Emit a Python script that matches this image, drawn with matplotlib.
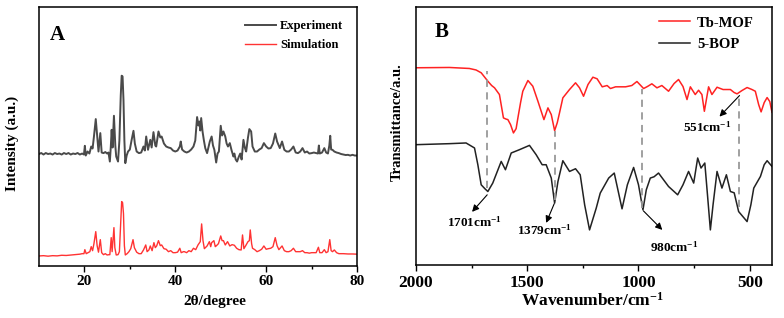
"""Two-panel figure: (A) PXRD experiment vs simulation, (B) FT-IR of Tb-MOF and 5-BOP."""

import matplotlib

matplotlib.use("Agg")
import matplotlib.pyplot as plt
import numpy as np

# ---- panel A: PXRD (2theta in degree, intensity in a.u.)
exp_points = [
    (10, 111.5), (10.5, 112.5), (11, 111), (11.5, 112.5), (12, 111.5), (12.5, 112),
    (13, 111), (13.5, 112.5), (14, 111.5), (14.5, 112), (15, 111), (15.5, 112.5),
    (16, 111.5), (16.5, 112.5), (17, 111), (17.5, 112), (18, 111.5), (18.5, 112.5),
    (19, 111), (19.5, 112), (19.9, 111), (20.1, 119.7), (20.3, 110), (20.7, 114),
    (21.1, 112), (21.5, 119), (21.8, 117), (22.1, 129), (22.5, 146.4), (22.8, 130),
    (23.1, 114), (23.5, 132.4), (23.8, 113), (24.2, 112.4), (24.6, 113.5), (25, 112),
    (25.3, 113), (25.6, 104), (25.8, 118), (26.0, 135.7), (26.2, 118), (26.5, 149.7),
    (26.8, 120), (27, 109), (27.4, 104), (27.7, 125), (28.0, 170), (28.2, 189.7),
    (28.4, 189), (28.6, 165.7), (28.8, 125), (29.0, 102.4), (29.3, 110), (29.6, 114),
    (30, 116), (30.4, 125.7), (30.8, 134.7), (31.1, 122), (31.5, 114), (32, 112.4),
    (32.5, 113), (33, 119), (33.3, 115), (33.6, 129), (34, 115.7), (34.5, 125.7),
    (34.8, 118), (35.2, 133.4), (35.6, 120), (35.8, 119), (36.3, 134), (36.7, 128),
    (37, 129), (37.5, 122), (38, 119), (38.5, 118), (39, 117.4), (39.5, 115),
    (40, 114), (40.5, 115), (41, 119), (41.2, 124), (41.5, 116), (42, 114),
    (42.5, 113), (43, 114), (43.5, 116), (44, 119), (44.4, 125), (44.8, 148.4),
    (45.1, 140), (45.3, 144), (45.5, 135), (45.7, 147.4), (46, 134), (46.3, 125),
    (46.6, 117.4), (47, 112.4), (47.3, 118), (47.6, 124), (48, 129), (48.3, 120),
    (48.6, 115.7), (49, 103), (49.3, 112), (49.6, 114), (50, 139.7), (50.3, 130),
    (50.6, 134), (51, 129), (51.3, 122), (51.6, 119), (52, 122.4), (52.4, 115),
    (52.8, 109), (53, 112), (53.3, 106), (53.6, 104), (54, 109), (54.3, 112),
    (54.6, 106), (55, 125.7), (55.3, 118), (55.6, 114), (56, 128), (56.3, 136.4),
    (56.7, 134), (57, 119), (57.5, 114), (58, 114), (58.5, 116), (59, 117.4),
    (59.5, 122.4), (60, 119), (60.5, 117), (61, 117.4), (61.5, 122), (62, 132),
    (62.4, 124), (63, 117.4), (63.5, 124), (64, 115.7), (64.5, 114), (65, 114),
    (65.5, 116), (66, 119), (66.5, 113), (67, 112.4), (67.5, 114), (68, 117.4),
    (68.5, 113), (69, 114), (69.5, 112), (70, 112.4), (70.5, 113), (71, 112.4),
    (71.4, 112), (71.6, 120), (71.8, 112), (72.3, 113), (72.8, 117.4), (73.2, 113),
    (73.6, 112), (73.9, 120), (74.1, 129.7), (74.3, 116), (74.6, 115.7), (75, 114),
    (75.5, 113), (76, 112.4), (76.5, 111.5), (77, 111), (77.5, 110.5), (78, 110.7),
    (78.5, 110), (79, 110.7), (79.5, 110), (80, 110),
]

sim_points = [
    (10, 9.7), (11, 10), (12, 9.5), (13, 10), (14, 9.8), (15, 10.4), (16, 10.2),
    (17, 10.6), (18, 11), (19, 11.5), (19.5, 12), (19.9, 12), (20.1, 16), (20.4, 12),
    (20.8, 13), (21.2, 14), (21.5, 19), (21.8, 15), (22.1, 22), (22.5, 34), (22.8, 20),
    (23.1, 13.5), (23.5, 26), (23.8, 13), (24.2, 11), (24.6, 12), (25, 10.7), (25.4, 11),
    (25.6, 11), (25.9, 28), (26.1, 14), (26.5, 38), (26.7, 18), (27, 10.7), (27.4, 11),
    (27.7, 14), (28.0, 45), (28.2, 64), (28.4, 63), (28.6, 52), (28.8, 20), (29, 10.7),
    (29.4, 12), (29.8, 14), (30.2, 17), (30.7, 26), (31, 18), (31.5, 13.5), (32, 12),
    (32.5, 12), (33, 15.7), (33.5, 20.7), (33.8, 14), (34.2, 15.7), (34.5, 19.7),
    (34.9, 15), (35.3, 23), (35.6, 18), (35.9, 19.7), (36.3, 25), (36.7, 20), (37, 20.7),
    (37.5, 17), (38, 16.4), (38.5, 14), (39, 15), (39.5, 13), (40, 13), (40.5, 13.5),
    (41, 17.4), (41.3, 13), (41.8, 14), (42, 14), (42.5, 13), (43, 15), (43.5, 14),
    (44, 17.4), (44.5, 16), (45, 20.7), (45.5, 24), (45.8, 41.7), (46.1, 25), (46.4, 17),
    (47, 19.7), (47.5, 24), (47.8, 19), (48, 23), (48.5, 25), (48.8, 19), (49, 19.7),
    (49.5, 22), (50, 29.7), (50.3, 25), (50.6, 25), (51, 20.7), (51.5, 24), (52, 19.7),
    (52.5, 21), (53, 20.4), (53.5, 17.4), (54, 16), (54.5, 15.7), (54.8, 30.7),
    (55.1, 17), (55.5, 20), (56, 24), (56.3, 25), (56.5, 35.7), (56.8, 22), (57, 17.4),
    (57.5, 16), (58, 14), (58.5, 15), (59, 16.4), (59.5, 19.7), (60, 16.4), (60.5, 17),
    (61, 17.4), (61.5, 19), (62, 28), (62.4, 20), (62.8, 16), (63.5, 19.7), (64, 15),
    (64.5, 14), (65, 14), (65.5, 15), (66, 17.4), (66.5, 14), (67, 14), (67.5, 14),
    (68, 15), (68.5, 13), (69, 13), (69.5, 12.5), (70, 13), (70.5, 13), (71, 13),
    (71.5, 18.4), (71.8, 13), (72.3, 13), (72.8, 16), (73.2, 13), (73.6, 14), (74, 26),
    (74.3, 15), (74.6, 14), (75, 15.7), (75.5, 13), (76, 12), (77, 12), (78, 11.7),
    (79, 11.7), (80, 11.5),
]

# ---- panel B: FT-IR (wavenumber in cm-1, transmittance in a.u.)
tb_mof = [
    (2000, 196.7), (1850, 197), (1760, 196), (1730, 194.5), (1707, 191.7), (1677, 183.3),
    (1660, 179), (1647, 176.7), (1625, 170), (1607, 146.7), (1595, 145.5), (1587, 145),
    (1575, 140), (1562, 131.7), (1550, 136), (1542, 146.7), (1530, 162), (1520, 173.3),
    (1497, 184), (1475, 178.3), (1452, 163.3), (1425, 145), (1407, 156.7), (1392, 150),
    (1377, 134), (1365, 142), (1355, 151.7), (1340, 166.7), (1310, 175), (1283, 181.7),
    (1265, 176.7), (1247, 168.3), (1227, 180), (1205, 187.3), (1186, 185.7),
    (1163, 177.7), (1141, 179), (1126, 176), (1103, 177.7), (1058, 177.7), (1030, 179),
    (1007, 183), (977, 176), (960, 178), (940, 180.7), (917, 176.7), (895, 179),
    (865, 173.3), (840, 181), (820, 185), (800, 178), (782, 165), (767, 177.7),
    (745, 170), (730, 174.3), (715, 170), (704, 153.3), (685, 177.7), (670, 170),
    (647, 177.3), (620, 175), (587, 175), (570, 172), (557, 170.7), (535, 174),
    (512, 177), (490, 175), (475, 173.3), (460, 160), (449, 152.7), (435, 162),
    (422, 167), (410, 163), (400, 152.3),
]

bop = [
    (2000, 120), (1850, 121), (1775, 121.7), (1737, 116.7), (1722, 100), (1707, 80),
    (1690, 76), (1677, 73.3), (1655, 81.7), (1617, 103.3), (1598, 95), (1572, 111.7),
    (1535, 115), (1490, 119.3), (1460, 110), (1433, 100), (1415, 100), (1392, 86.7),
    (1377, 61.7), (1362, 83.3), (1340, 104), (1310, 93.3), (1283, 96), (1262, 90),
    (1242, 60), (1220, 35), (1190, 56.7), (1172, 71.7), (1134, 86.7), (1109, 91.7),
    (1074, 56), (1050, 80), (1022, 97.3), (1000, 80), (980, 55), (965, 75),
    (947, 86.7), (930, 88), (910, 91.7), (865, 78.3), (824, 70), (800, 80),
    (775, 93.3), (752, 81.7), (734, 106.7), (719, 96.7), (702, 101.7), (690, 70),
    (677, 35), (665, 60), (647, 93.3), (625, 76.7), (605, 90), (587, 73.3), (570, 72),
    (550, 53.3), (512, 43.3), (495, 60), (482, 76.7), (452, 88.3), (435, 100),
    (422, 104), (400, 98.3),
]

# marked bands: label, guide x, guide from/to (a.u.), arrow start/end, label position
band_labels = ["1701", "1379", "980", "551"]
band_x = [1680, 1376, 983, 548]
guide_top = [193.3, 133.3, 175.7, 169]
guide_bottom = [76.7, 65, 56.7, 58.3]
arrow_start = [(1680, 70), (1379, 61), (978, 54), (546, 169)]
arrow_end = [(1748, 53), (1415, 42), (893, 35), (636, 148)]
label_pos = [(1739, 43), (1424, 35), (839, 18), (690, 137)]

plt.rcParams["font.family"] = ["Liberation Serif", "DejaVu Serif"]
plt.rcParams["font.weight"] = "bold"
plt.rcParams["axes.labelweight"] = "bold"
plt.rcParams["mathtext.fontset"] = "custom"
plt.rcParams["mathtext.rm"] = "Liberation Serif:bold"
plt.rcParams["mathtext.bf"] = "Liberation Serif:bold"
plt.rcParams["mathtext.it"] = "Liberation Serif:bold:italic"

fig = plt.figure(figsize=(7.84, 3.18), dpi=100)
ax_a = fig.add_axes([0.0497, 0.1645, 0.4057, 0.8125])
ax_b = fig.add_axes([0.5306, 0.1667, 0.4541, 0.8103])

# Panel A
exp = np.array(exp_points)
sim = np.array(sim_points)
ax_a.plot(exp[:, 0], exp[:, 1], color="#4a4a4a", lw=1.4, label="Experiment")
ax_a.plot(sim[:, 0], sim[:, 1], color="#ff3333", lw=1.0, label="Simulation")
ax_a.set_xlim(10, 80)
ax_a.set_ylim(0, 258)
ax_a.set_xticks([20, 40, 60, 80])
ax_a.set_xticks([30, 50, 70], minor=True)
ax_a.set_yticks([])
ax_a.tick_params(axis="x", labelsize=11, length=4, width=1, pad=3)
ax_a.tick_params(axis="x", which="minor", length=2.5, width=1)
ax_a.set_xlabel("2θ/degree", fontsize=11)
ax_a.xaxis.set_label_coords(0.553, -0.115)
ax_a.set_ylabel("Intensity (a.u.)", fontsize=11)
ax_a.yaxis.set_label_coords(-0.062, 0.475)
ax_a.text(0.035, 0.893, "A", transform=ax_a.transAxes, fontsize=15,
          fontweight="bold", va="center", ha="left")
ax_a.legend(loc="upper left", bbox_to_anchor=(0.648, 0.95), frameon=False,
            fontsize=9, handlelength=2.5, handletextpad=0.3, labelspacing=0.55,
            borderpad=0, borderaxespad=0)

# Panel B
mof = np.array(tb_mof)
bp = np.array(bop)
ax_b.plot(mof[:, 0], mof[:, 1], color="#ff2222", lw=1.1, label="Tb-MOF")
ax_b.plot(bp[:, 0], bp[:, 1], color="#222222", lw=1.1, label="5-BOP")
for i, lab in enumerate(band_labels):
    ax_b.plot([band_x[i], band_x[i]], [guide_bottom[i], guide_top[i]],
              color="#999999", lw=1.3, ls=(0, (4, 3)))
    ax_b.annotate("", xy=arrow_end[i], xytext=arrow_start[i],
                  arrowprops=dict(arrowstyle="-|>", color="black", lw=0.8,
                                  mutation_scale=10, shrinkA=0, shrinkB=0))
    ax_b.text(label_pos[i][0], label_pos[i][1], lab + "cm$^{-1}$", fontsize=9.5,
              ha="center", va="center")
ax_b.set_xlim(2000, 400)
ax_b.set_ylim(0, 257)
ax_b.set_xticks([2000, 1500, 1000, 500])
ax_b.set_xticks([1750, 1250, 750], minor=True)
ax_b.set_yticks([])
ax_b.tick_params(axis="x", labelsize=12.5, length=4, width=1, pad=3)
ax_b.tick_params(axis="x", which="minor", length=2.5, width=1)
ax_b.set_xlabel("Wavenumber/cm$^{-1}$", fontsize=12.5)
ax_b.xaxis.set_label_coords(0.495, -0.105)
ax_b.set_ylabel("Transmittance/a.u.", fontsize=10.5)
ax_b.yaxis.set_label_coords(-0.034, 0.556)
ax_b.text(0.053, 0.903, "B", transform=ax_b.transAxes, fontsize=15,
          fontweight="bold", va="center", ha="left")
ax_b.legend(loc="upper left", bbox_to_anchor=(0.683, 0.965), frameon=False,
            fontsize=10.5, handlelength=2.1, handletextpad=0.5, labelspacing=0.6,
            borderpad=0, borderaxespad=0)

for ax in (ax_a, ax_b):
    for s in ax.spines.values():
        s.set_linewidth(1.1)

fig.savefig("out.png", dpi=100)
plt.close(fig)
